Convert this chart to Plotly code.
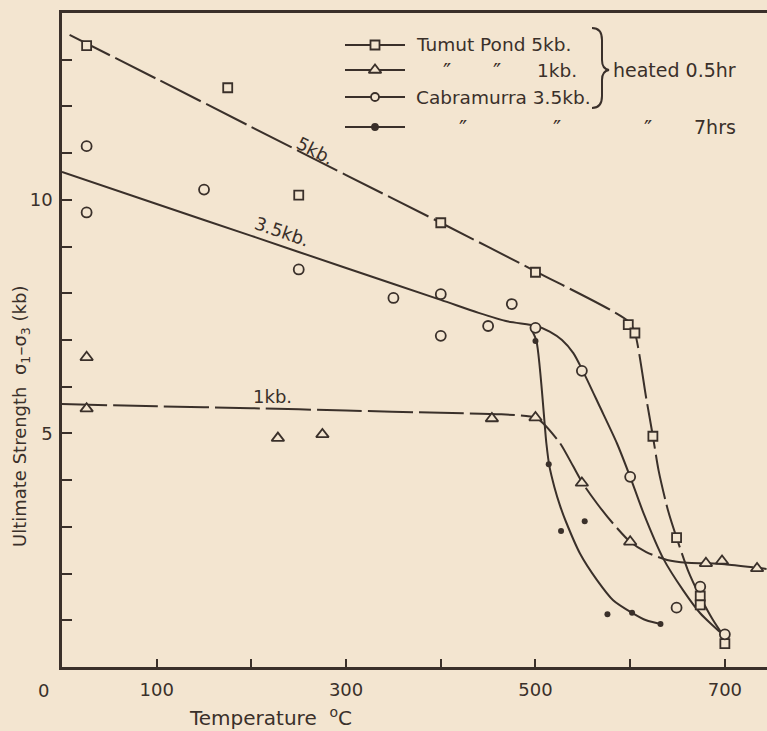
import plotly.graph_objects as go

# ---------------- data ----------------
# Tumut Pond 5 kb, heated 0.5 hr (squares)
sq_T = [26, 175, 250, 400, 500, 598, 605, 624, 649, 674, 674, 700]
sq_V = [13.30, 12.40, 10.10, 9.51, 8.45, 7.33, 7.15, 4.94, 2.77, 1.52, 1.33, 0.50]
# Tumut Pond 1 kb, heated 0.5 hr (triangles)
tri_T = [26, 26, 228, 275, 454, 500, 549, 600, 680, 697, 734]
tri_V = [6.63, 5.53, 4.90, 4.98, 5.32, 5.34, 3.94, 2.68, 2.22, 2.27, 2.11]
# Cabramurra 3.5 kb, heated 0.5 hr (open circles)
cir_T = [26, 26, 150, 250, 350, 400, 400, 450, 475, 500, 549, 600, 649, 674, 700]
cir_V = [11.15, 9.73, 10.22, 8.51, 7.90, 7.98, 7.09, 7.30, 7.77, 7.26, 6.34, 4.07, 1.27, 1.72, 0.70]
# Cabramurra 3.5 kb, heated 7 hrs (dots)
dot_T = [500, 514, 527, 552, 576, 602, 632]
dot_V = [6.98, 4.34, 2.91, 3.12, 1.13, 1.16, 0.92]

# hand-drawn fitted curves
fit5_T = [8, 100, 200, 300, 400, 500, 598, 605, 617, 624, 630, 640, 649, 661, 674, 687, 700]
fit5_V = [13.53, 12.59, 11.56, 10.53, 9.51, 8.47, 7.40, 7.15, 5.75, 4.94, 4.21, 3.35, 2.77, 2.07, 1.50, 1.02, 0.62]
fit35_T = [0, 100, 200, 300, 400, 440, 470, 501, 515, 528, 540, 550, 568, 586, 600, 614, 635, 656, 674, 695, 700]
fit35_V = [10.60, 9.91, 9.23, 8.54, 7.86, 7.58, 7.40, 7.30, 7.18, 7.00, 6.72, 6.34, 5.57, 4.79, 4.07, 3.30, 2.32, 1.64, 1.15, 0.75, 0.68]
fit7_T = [495, 501, 511.5, 514.5, 520, 526, 532, 547, 565, 582, 602, 617, 632]
fit7_V = [7.25, 6.98, 4.79, 4.32, 3.85, 3.45, 3.12, 2.43, 1.86, 1.43, 1.16, 1.00, 0.92]
fit1_T = [0, 100, 200, 300, 400, 464, 500, 508, 526, 540, 550, 565, 582, 600, 617, 639, 660, 680, 700, 744]
fit1_V = [5.63, 5.58, 5.54, 5.49, 5.44, 5.41, 5.34, 5.22, 4.79, 4.29, 3.93, 3.50, 3.07, 2.68, 2.46, 2.29, 2.23, 2.22, 2.20, 2.10]

x_tickvals = [100, 300, 500, 700]
x_ticktext = ['100', '300', '500', '700']
y_tickvals = [5, 10]
y_ticktext = ['5', '10']

legend_labels = ['Tumut Pond 5kb.', 'Cabramurra 3.5kb.']

# ---------------- layout constants ----------------
W, H = 767, 731
ML, MR, MT, MB = 62, 0, 13, 64
INK = '#3a302a'
BG = '#f3e5d0'
FONT = 'DejaVu Sans'


def fx(p):
    return (p - ML) / (W - ML - MR)


def fy(p):
    return (H - MB - p) / (H - MT - MB)


fig = go.Figure()

dash = '45px,6px'
for xs, ys, d in [(fit5_T, fit5_V, dash), (fit1_T, fit1_V, dash),
                  (fit35_T, fit35_V, 'solid'), (fit7_T, fit7_V, 'solid')]:
    fig.add_trace(go.Scatter(x=xs, y=ys, mode='lines',
                             line=dict(color=INK, width=2, dash=d, shape='spline', smoothing=0.7),
                             hoverinfo='skip', showlegend=False))

mk = dict(color=BG, line=dict(color=INK, width=1.8))
fig.add_trace(go.Scatter(x=sq_T, y=sq_V, mode='markers', showlegend=False,
                         marker=dict(symbol='square', size=9, **mk)))
fig.add_trace(go.Scatter(x=tri_T, y=tri_V, mode='markers', showlegend=False,
                         marker=dict(symbol='triangle-up', size=11, **mk)))
fig.add_trace(go.Scatter(x=cir_T, y=cir_V, mode='markers', showlegend=False,
                         marker=dict(symbol='circle', size=10, **mk)))
fig.add_trace(go.Scatter(x=dot_T, y=dot_V, mode='markers', showlegend=False,
                         marker=dict(symbol='circle', size=6, color=INK)))

# ---------------- hand-made legend (pixel overlay axes) ----------------
rows = [45, 70, 97, 127]
syms = [('square', 9, BG), ('triangle-up', 11, BG), ('circle', 8, BG), ('circle', 6, INK)]
for ry, (s, sz, c) in zip(rows, syms):
    fig.add_trace(go.Scatter(x=[345, 405], y=[ry, ry], xaxis='x2', yaxis='y2', mode='lines',
                             line=dict(color=INK, width=2), hoverinfo='skip', showlegend=False))
    fig.add_trace(go.Scatter(x=[375], y=[ry], xaxis='x2', yaxis='y2', mode='markers',
                             marker=dict(symbol=s, size=sz, color=c, line=dict(color=INK, width=1.8)),
                             hoverinfo='skip', showlegend=False))

ann = []


def txt(t, x, y, xanchor='left', size=18.5, angle=0):
    ann.append(dict(text=t, x=fx(x), y=fy(y), xref='paper', yref='paper', showarrow=False,
                    xanchor=xanchor, yanchor='middle', textangle=angle,
                    font=dict(family=FONT, size=size, color=INK)))


txt(legend_labels[0], 414, 45)
txt('″', 447, 71, 'center', 22)
txt('″', 497, 71, 'center', 22)
txt('1kb.', 535, 70)
txt(legend_labels[1], 414, 97)
txt('heated 0.5hr', 611, 70, size=19)
txt('″', 463, 128, 'center', 22)
txt('″', 557, 128, 'center', 22)
txt('″', 648, 128, 'center', 22)
txt('7hrs', 692, 127, size=19)

# curve labels
txt('5kb.', 315, 150, 'center', 18, 27)
txt('3.5kb.', 282, 231, 'center', 18, 19)
txt('1kb.', 272, 396, 'center', 18, 0)

# origin label and axis titles
txt('0', 43, 690, 'center', 18)
txt('Temperature &nbsp;<sup>o</sup>C', 270, 717, 'center', 20)
txt('Ultimate Strength &nbsp;σ<sub>1</sub>–σ<sub>3</sub> (kb)', 21, 417, 'center', 18, -90)

# brace
brace = ('M 592 28 Q 602 28 602 40 L 602 60 Q 602 69 609 70 '
         'Q 602 71 602 80 L 602 96 Q 602 108 592 108')

fig.update_layout(
    width=W, height=H,
    margin=dict(l=ML, r=MR, t=MT, b=MB, pad=0),
    paper_bgcolor=BG, plot_bgcolor=BG,
    font=dict(family=FONT, size=18, color=INK),
    showlegend=False,
    annotations=ann,
    shapes=[dict(type='path', path=brace, xref='x2', yref='y2',
                 line=dict(color=INK, width=2))],
    xaxis=dict(range=[0, 744.5], showgrid=False, zeroline=False, showline=True, mirror=True,
               linecolor=INK, linewidth=2.5, ticks='inside', ticklen=8, tickwidth=2, tickcolor=INK,
               tickvals=x_tickvals, ticktext=x_ticktext, ticklabelstandoff=5,
               minor=dict(dtick=100, tick0=0, ticks='inside', ticklen=8, tickwidth=2,
                          tickcolor=INK, showgrid=False),
               tickfont=dict(family=FONT, size=18, color=INK)),
    yaxis=dict(range=[0, 14], showgrid=False, zeroline=False, showline=True,
               linecolor=INK, linewidth=2.5, ticks='inside', ticklen=10, tickwidth=2, tickcolor=INK,
               tickvals=y_tickvals, ticktext=y_ticktext, ticklabelstandoff=3,
               minor=dict(dtick=1, tick0=0, ticks='inside', ticklen=10, tickwidth=2,
                          tickcolor=INK, showgrid=False),
               tickfont=dict(family=FONT, size=18, color=INK)),
    xaxis2=dict(overlaying='x', anchor='y2', range=[ML, W - MR], visible=False),
    yaxis2=dict(overlaying='y', anchor='x2', range=[H - MB, MT], visible=False),
)

fig.write_html('out.html')
